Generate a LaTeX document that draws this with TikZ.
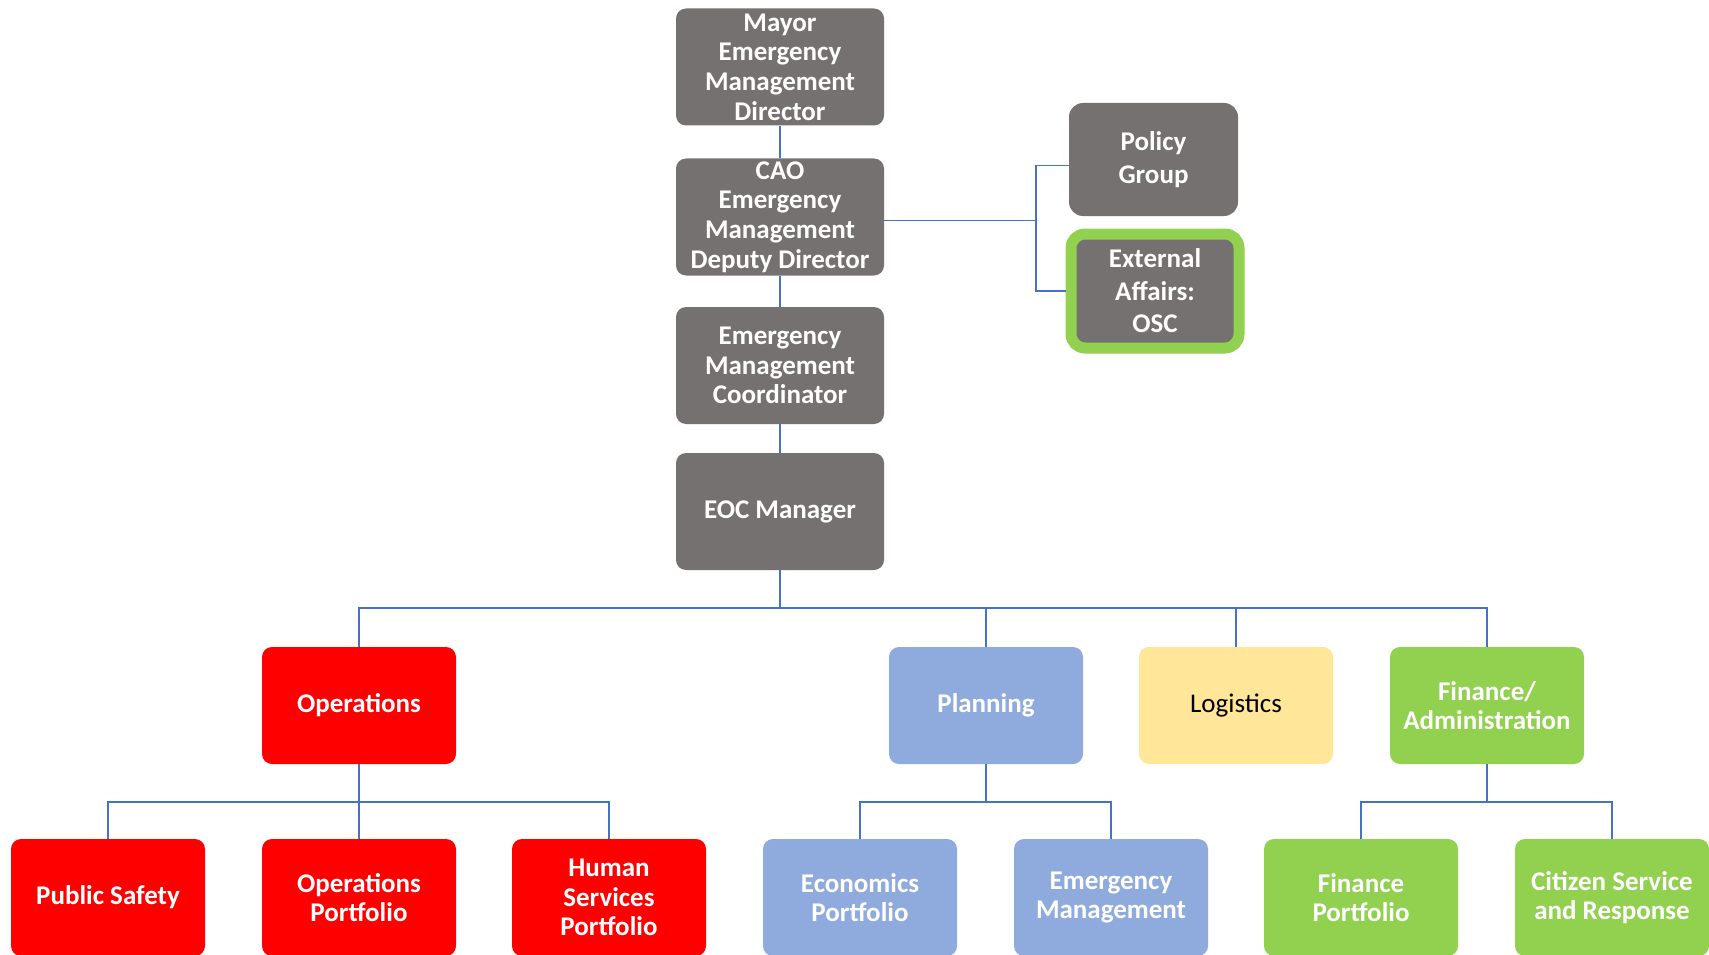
\documentclass[tikz,border=0pt]{standalone}
\usepackage{fontspec}
\setmainfont{Carlito}
\definecolor{boxgray}{HTML}{767171}
\definecolor{boxred}{HTML}{FF0000}
\definecolor{boxblue}{HTML}{8FAADC}
\definecolor{boxyellow}{HTML}{FFE699}
\definecolor{boxgreen}{HTML}{92D050}
\definecolor{linec}{HTML}{4472C4}
\begin{document}
\begin{tikzpicture}[x=1pt,y=-1pt,
  box/.style={rectangle, rounded corners=10pt, minimum width=194pt, minimum height=117pt,
    inner sep=0pt, align=center, text=white, font=\fontsize{27}{29.6}\selectfont\bfseries},
  topbox/.style={box, fill=boxgray, minimum width=208pt},
  sidebox/.style={box, fill=boxgray, rounded corners=14pt, font=\fontsize{27}{32.5}\selectfont\bfseries},
  redbox/.style={box, fill=boxred},
  bluebox/.style={box, fill=boxblue},
  greenbox/.style={box, fill=boxgreen},
  conn/.style={draw=linec, line width=1.5pt}]
\useasboundingbox (0,0) rectangle (1709,955);
\clip (0,0) rectangle (1709,955);
% top column
\node[topbox] (mayor) at (780,67) {Mayor\\Emergency\\Management\\Director};
\node[topbox] (cao) at (780,217) {CAO\\Emergency\\Management\\Deputy Director};
\node[topbox] (emc) at (780,365.5) {Emergency\\Management\\Coordinator};
\node[topbox] (eoc) at (780,511.5) {EOC Manager};
% side
\node[sidebox, minimum width=169pt, minimum height=113pt] (pol) at (1153.5,159.5) {Policy\\Group};
\node[sidebox, draw=boxgreen, line width=11pt, minimum width=168pt, minimum height=114pt] (ea) at (1155,291) {External\\Affairs:\\OSC};
% level 2
\node[redbox] (ops) at (359,705.5) {Operations};
\node[bluebox] (plan) at (986,705.5) {Planning};
\node[box, fill=boxyellow, text=black, font=\fontsize{27}{29.6}\selectfont] (logi) at (1236,705.5) {Logistics};
\node[greenbox] (fin) at (1487,705.5) {Finance/\\Administration};
% level 3
\node[redbox] (ps) at (108,897.5) {Public Safety};
\node[redbox] (op) at (359,897.5) {Operations\\Portfolio};
\node[redbox] (hs) at (609,897.5) {Human\\Services\\Portfolio};
\node[bluebox] (eco) at (860,897.5) {Economics\\Portfolio};
\node[bluebox] (em) at (1111,897.5) {Emergency\\Management};
\node[greenbox] (fp) at (1361,897.5) {Finance\\Portfolio};
\node[greenbox] (cs) at (1612,897.5) {Citizen Service\\and Response};
% connectors
\draw[conn] (mayor) -- (cao);
\draw[conn] (cao) -- (emc);
\draw[conn] (emc) -- (eoc);
\draw[conn] ([yshift=-3.5pt]cao.east) -- ++(152,0) coordinate (j);
\draw[conn] ([yshift=-6pt]pol.west) -| (j) |- (ea.west);
\draw[conn] (eoc.south) -- ++(0,38) coordinate (b1);
\draw[conn] (ops.north) |- (b1) -| (fin.north);
\draw[conn] (plan.north) -- (plan.north |- b1);
\draw[conn] (logi.north) -- (logi.north |- b1);
\draw[conn] (ops.south) -- ++(0,38) coordinate (b2);
\draw[conn] (ps.north) |- (b2) -| (hs.north);
\draw[conn] (op.north) -- (b2);
\draw[conn] (plan.south) -- ++(0,38) coordinate (b3);
\draw[conn] (eco.north) |- (b3) -| (em.north);
\draw[conn] (fin.south) -- ++(0,38) coordinate (b4);
\draw[conn] (fp.north) |- (b4) -| (cs.north);
\end{tikzpicture}
\end{document}
